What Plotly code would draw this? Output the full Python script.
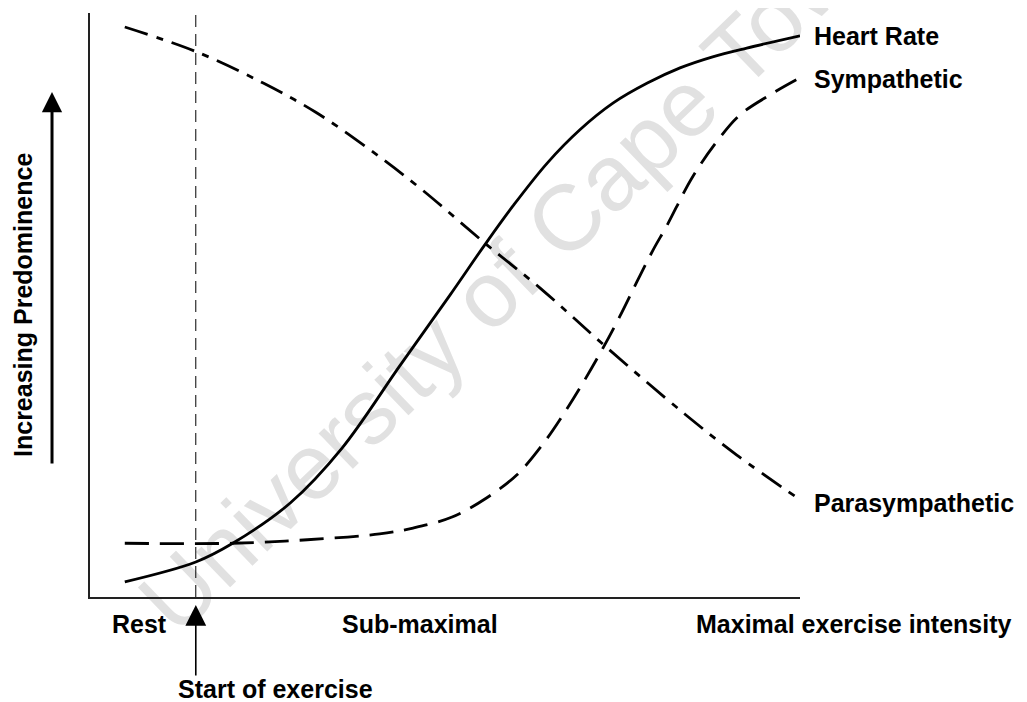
import plotly.graph_objects as go

# ---- data (x: exercise intensity 0-100, y: predominance 0-100) ----
heart_x = [4.9, 14.9, 20.1, 28.2, 35.5, 43.7, 50.7, 55.6, 59.6, 64.4, 69.0, 73.7, 78.5, 83.1, 87.7, 92.5, 100]
heart_y = [2.6, 6.0, 9.2, 16.1, 25.5, 39.7, 51.7, 60.3, 67.0, 74.3, 80.0, 84.6, 88.0, 90.6, 92.5, 94.0, 96.1]

symp_x = [4.9, 20.1, 30.6, 40.8, 45.5, 51.0, 55.9, 60.1, 63.8, 66.9, 69.4, 72.1, 74.6, 77.0, 79.3, 81.3,
          84.8, 88.3, 91.5, 95.8, 100]
symp_y = [9.2, 9.2, 9.8, 10.8, 11.8, 13.7, 17.0, 20.9, 26.2, 31.7, 36.6, 42.3, 48.0, 53.9, 59.4, 63.7,
          71.8, 78.0, 82.5, 86.0, 88.9]

para_x = [4.9, 15.1, 24.4, 31.8, 39.3, 46.6, 55.9, 63.4, 72.7, 83.8, 91.1, 99.6]
para_y = [97.6, 93.3, 88.0, 83.0, 76.7, 69.9, 60.3, 52.9, 42.8, 31.3, 24.3, 17.0]

start_of_exercise = 14.9
series_labels = ["Heart Rate", "Sympathetic", "Parasympathetic"]
x_labels = ["Rest", "Sub-maximal", "Maximal exercise intensity"]
x_label_pos = [0.0704, 0.4648, 1.076]   # fraction of the x-axis length
y_title = "Increasing Predominence"
watermark = "University of Cape Town"

FONT = "Liberation Sans, Arial, Helvetica, sans-serif"
LW = 2.8

fig = go.Figure()
fig.add_trace(go.Scatter(x=[start_of_exercise, start_of_exercise], y=[0, 100], mode="lines",
                         line=dict(color="black", width=1, dash="12px,7px"), hoverinfo="skip"))
fig.add_trace(go.Scatter(x=heart_x, y=heart_y, mode="lines", name=series_labels[0],
                         line=dict(color="black", width=LW, shape="spline", smoothing=1.0)))
fig.add_trace(go.Scatter(x=symp_x, y=symp_y, mode="lines", name=series_labels[1],
                         line=dict(color="black", width=LW, shape="spline", smoothing=1.0, dash="24px,11px")))
fig.add_trace(go.Scatter(x=para_x, y=para_y, mode="lines", name=series_labels[2],
                         line=dict(color="black", width=LW, shape="spline", smoothing=1.0,
                                   dash="24px,9px,7px,9px")))

lab_font = dict(family=FONT, size=25, color="black")
ann = []
# series end labels
ann.append(dict(x=heart_x[-1], y=heart_y[-1], xref="x", yref="y", text="<b>%s</b>" % series_labels[0],
                showarrow=False, xanchor="left", yanchor="middle", xshift=12, font=lab_font))
ann.append(dict(x=symp_x[-1], y=symp_y[-1], xref="x", yref="y", text="<b>%s</b>" % series_labels[1],
                showarrow=False, xanchor="left", yanchor="middle", xshift=12, yshift=-1, font=lab_font))
ann.append(dict(x=para_x[-1], y=para_y[-1], xref="x", yref="y", text="<b>%s</b>" % series_labels[2],
                showarrow=False, xanchor="left", yanchor="middle", xshift=15, yshift=-5, font=lab_font))
# x category labels
for t, xp in zip(x_labels, x_label_pos):
    ann.append(dict(x=xp, y=-0.0462, xref="paper", yref="paper", text="<b>%s</b>" % t,
                    showarrow=False, xanchor="center", yanchor="middle", font=lab_font))
ann.append(dict(x=0.2606, y=-0.1575, xref="paper", yref="paper", text="<b>Start of exercise</b>",
                showarrow=False, xanchor="center", yanchor="middle", font=lab_font))
# y title
ann.append(dict(x=-0.0944, y=0.5, xref="paper", yref="paper", text="<b>%s</b>" % y_title,
                textangle=-90, showarrow=False, xanchor="center", yanchor="middle", font=lab_font))
# arrows
ann.append(dict(x=start_of_exercise, y=-0.0137, xref="x", yref="paper", text="", showarrow=True,
                ax=0, ay=72, arrowhead=2, arrowwidth=1.6, arrowsize=2.6, arrowcolor="black", standoff=0))
ann.append(dict(x=-0.0535, y=0.8647, xref="paper", yref="paper", text="", showarrow=True,
                ax=0, ay=373, arrowhead=2, arrowwidth=3, arrowsize=1.35, arrowcolor="black", standoff=0))

fig.update_layout(annotations=ann)

# watermark below the traces
cx, cy = 0.59, 0.575
fig.add_shape(type="rect", xref="paper", yref="paper", x0=cx - 0.01, x1=cx + 0.01, y0=cy - 0.01, y1=cy + 0.01,
              line=dict(width=0, color="rgba(0,0,0,0)"), fillcolor="rgba(0,0,0,0)", layer="below",
              label=dict(text=watermark, textangle=-44, textposition="middle center",
                         font=dict(family=FONT, size=93, color="#e1e1e1")))

axis_common = dict(range=[0, 100], showgrid=False, zeroline=False, showticklabels=False, ticks="",
                   showline=True, linecolor="#222", linewidth=1.5, fixedrange=True)
fig.update_xaxes(**axis_common)
fig.update_yaxes(**axis_common)

# the page places the figure 8px from the window's top-left corner
fig.update_layout(width=1019, height=694, autosize=False,
                  margin=dict(l=82, r=227, t=5, b=105, pad=0),
                  showlegend=False, plot_bgcolor="white", paper_bgcolor="white")

fig.write_html("out.html")
